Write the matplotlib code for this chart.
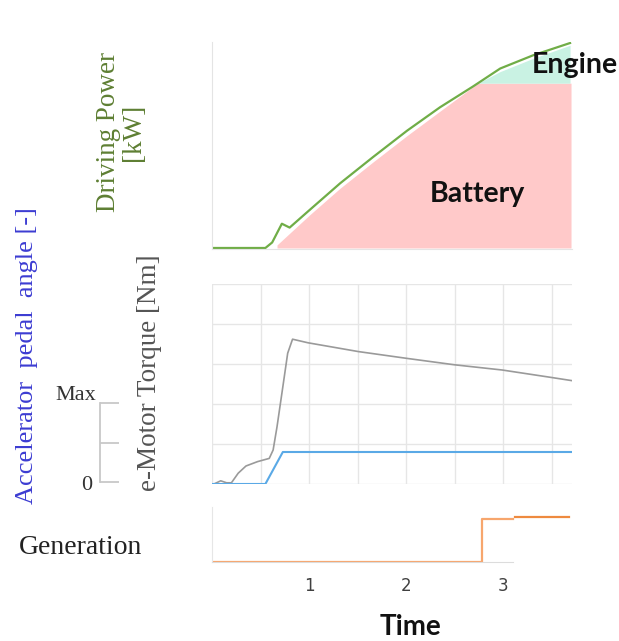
import matplotlib
matplotlib.use("Agg")
import matplotlib.pyplot as plt

W, H = 619, 641

# driving power (top panel), time in s, power in % of panel height
power_t = [0.0, 0.55, 0.62, 0.72, 0.80, 1.01, 1.32, 1.66, 2.01, 2.35, 2.69, 2.97, 3.31, 3.69]
power_v = [0.0, 0.0, 2.7, 11.9, 10.0, 18.8, 31.7, 44.6, 57.5, 69.0, 79.2, 88.0, 94.5, 100.5]

battery_t = [0.67, 1.01, 1.32, 1.66, 2.01, 2.35, 2.74, 3.70]
battery_v = [1.5, 16.4, 29.3, 42.2, 55.1, 67.1, 80.8, 80.8]

engine_t = [2.74, 2.97, 3.31, 3.69]
engine_top = [80.8, 86.5, 93.0, 99.4]
engine_base = 80.8

# e-motor torque and accelerator pedal (middle panel)
torque_t = [0.02, 0.09, 0.15, 0.20, 0.27, 0.35, 0.47, 0.59, 0.63, 0.67, 0.73, 0.78,
            0.83, 0.99, 1.51, 2.01, 2.50, 2.99, 3.48, 3.72]
torque_v = [0.0, 0.08, 0.03, 0.03, 0.27, 0.45, 0.56, 0.64, 0.85, 1.43, 2.43, 3.27,
            3.62, 3.53, 3.31, 3.14, 2.98, 2.85, 2.67, 2.58]

pedal_t = [0.0, 0.55, 0.73, 3.72]
pedal_v = [0.0, 0.0, 0.4, 0.4]

# generation flag (bottom panel)
gen_t = [0.0, 2.78, 2.78, 3.10]
gen_v = [0.0, 0.0, 0.78, 0.78]
gen2_t = [3.12, 3.68]
gen2_v = [0.82, 0.82]

time_ticks = [1, 2, 3]
XMAX = 3.71


def px_rect(x0, y0, x1, y1):
    return [x0 / W, 1 - y1 / H, (x1 - x0) / W, (y1 - y0) / H]


def ftext(x, y, s, **kw):
    fig.text(x / W, 1 - y / H, s, **kw)


fig = plt.figure(figsize=(W / 100, H / 100), dpi=100)
serif = "Liberation Serif"
bold_sans = "Lato"

# --- top: driving power
ax1 = fig.add_axes(px_rect(212, 42, 572, 249))
ax1.fill_between(battery_t, 0, battery_v, color="#ffc9c9", lw=0)
ax1.fill_between(engine_t, engine_base, engine_top, color="#c9f2e3", lw=0)
ax1.plot(power_t, power_v, color="#70ad47", lw=1.6)
ax1.set_xlim(0, XMAX)
ax1.set_ylim(-0.5, 101)
ax1.set_xticks([])
ax1.set_yticks([])
for s in ["top", "right"]:
    ax1.spines[s].set_visible(False)
for s in ["left", "bottom"]:
    ax1.spines[s].set_color("#e4e4e4")

ax1.text(2.73, 26.6, "Battery", fontsize=20.5, fontweight="bold", family=bold_sans,
         ha="center", va="center", color="#111111")
ax1.text(3.74, 89.9, "Engine", fontsize=20.5, fontweight="bold", family=bold_sans,
         ha="center", va="center", color="#111111", clip_on=False)

# --- middle: torque + pedal
ax2 = fig.add_axes(px_rect(212, 284, 572, 484))
ax2.plot(torque_t, torque_v, color="#9a9a9a", lw=1.2)
ax2.set_xlim(0, XMAX)
ax2.set_ylim(0, 5)
ax2.set_xticks([0, 0.5, 1, 1.5, 2, 2.5, 3, 3.5])
ax2.set_yticks([0, 1, 2, 3, 4, 5])
ax2.grid(True, color="#e6e6e6", lw=1)
ax2.tick_params(length=0, labelbottom=False, labelleft=False)
for s in ax2.spines.values():
    s.set_visible(False)

ax2b = ax2.twinx()
ax2b.plot(pedal_t, pedal_v, color="#5aa9e6", lw=1.5)
ax2b.set_ylim(0, 200 / 80)
ax2b.set_yticks([])
for s in ax2b.spines.values():
    s.set_visible(False)

# pedal scale bracket
axp = fig.add_axes(px_rect(100, 403, 125, 482))
axp.set_ylim(0, 1)
axp.set_xticks([])
axp.set_yticks([0, 0.5, 1])
axp.tick_params(axis="y", direction="in", length=14, width=1.3, color="#c8c8c8",
                labelleft=False)
axp.patch.set_alpha(0)
for s in ["top", "right", "bottom"]:
    axp.spines[s].set_visible(False)
axp.spines["left"].set_color("#c8c8c8")
axp.spines["left"].set_linewidth(1.3)

# --- bottom: generation
ax3 = fig.add_axes(px_rect(212, 507, 572, 562))
ax3.plot(gen_t, gen_v, color="#f7a66d", lw=1.6)
ax3.plot(gen2_t, gen2_v, color="#ee8a3f", lw=1.6)
ax3.set_xlim(0, XMAX)
ax3.set_ylim(0, 1)
ax3.set_yticks([])
ax3.set_xticks(time_ticks)
ax3.set_xticklabels([str(t) for t in time_ticks], fontsize=12, color="#404040",
                    family="DejaVu Sans")
ax3.tick_params(axis="x", length=0, pad=11)
for s in ["top", "right"]:
    ax3.spines[s].set_visible(False)
ax3.spines["left"].set_color("#e6e6e6")
ax3.spines["bottom"].set_color("#dcdcdc")
ax3.spines["bottom"].set_bounds(0, 3.1)

# --- labels
ftext(121, 132, "Driving Power\n[kW]", rotation=90, ha="center", va="center",
      fontsize=19.5, family=serif, color="#5e7f33", linespacing=1.0)
ftext(27, 356, "Accelerator  pedal  angle [-]", rotation=90, ha="center", va="center",
      fontsize=19, family=serif, color="#3c3cd2")
ftext(150, 373, "e-Motor Torque [Nm]", rotation=90, ha="center", va="center",
      fontsize=19.5, family=serif, color="#555555")
ftext(81, 548, "Generation", ha="center", va="center", fontsize=20, family=serif,
      color="#222222")
ftext(96, 396, "Max", ha="right", va="center", fontsize=16, family=serif, color="#333333")
ftext(92, 486, "0", ha="right", va="center", fontsize=16, family=serif, color="#333333")
ftext(410, 627, "Time", ha="center", va="center", fontsize=20, fontweight="bold",
      family=bold_sans, color="#111111")

fig.savefig("out.png", dpi=100)
